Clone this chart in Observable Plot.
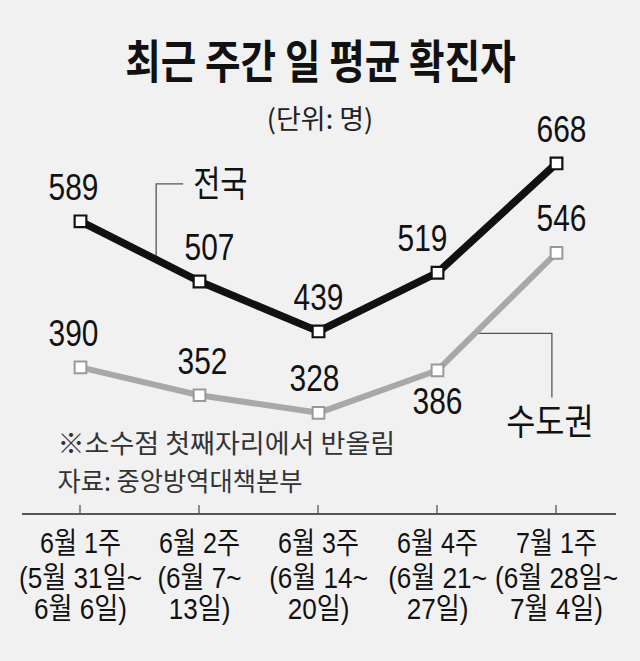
<!DOCTYPE html>
<html><head><meta charset="utf-8">
<script src="https://cdn.jsdelivr.net/npm/d3@7"></script>
<script src="https://cdn.jsdelivr.net/npm/@observablehq/plot@0.6"></script>
<style>
html,body{margin:0;padding:0;background:#f1f1f1;}
#wrap{position:relative;width:640px;height:661px;overflow:hidden;background:#f1f1f1;}
#title{position:absolute;left:0;top:33px;width:640px;text-align:center;font-family:"Noto Sans CJK KR";font-weight:700;font-size:46px;line-height:50px;color:#111;}
#title span{display:inline-block;transform:scaleX(0.84);white-space:nowrap;}
#sub{position:absolute;left:0;top:103px;width:640px;text-align:center;font-family:"Noto Sans CJK KR";font-size:27px;line-height:30px;color:#222;}
#chart{position:absolute;left:0;top:0;}
</style></head>
<body><div id="wrap"><div id="chart"></div><div id="title"><span>최근 주간 일 평균 확진자</span></div><div id="sub">(단위: 명)</div></div>
<script>
// ---- data ----
const weeks = ["6월 1주", "6월 2주", "6월 3주", "6월 4주", "7월 1주"];
const weekRanges = ["(5월 31일~", "(6월 7~", "(6월 14~", "(6월 21~", "(6월 28일~"];
const weekEnds = ["6월 6일)", "13일)", "20일)", "27일)", "7월 4일)"];
const national = [589, 507, 439, 519, 668];
const capital = [390, 352, 328, 386, 546];
const seriesNames = ["전국", "수도권"];
const notes = ["※소수점 첫째자리에서 반올림", "자료: 중앙방역대책본부"];

// ---- layout helpers (label nudges, not data) ----
const nationalDx = [-7, 10, 0, -15, 5];
const capitalDx = [-7, 3, -4, 0, 5];
const capitalBelow = [false, false, false, true, false];

const nat = weeks.map((w, i) => ({week: w, value: national[i], dx: nationalDx[i]}));
const cap = weeks.map((w, i) => ({week: w, value: capital[i], dx: capitalDx[i], below: capitalBelow[i]}));

const NUMFONT = '"Liberation Sans", Arial, sans-serif';
const KRFONT = '"Liberation Sans", "Noto Sans CJK KR", sans-serif';

function labelMarks(data) {
  return data.map(d => Plot.text([d], {
    x: "week", y: "value", text: r => String(r.value),
    dx: d.dx, dy: d.below ? 32 : -33,
    fontFamily: NUMFONT, fontSize: 36, fill: "#111", lineAnchor: "middle"
  }));
}

function decorations(index, scales, values, dimensions) {
  const x = typeof scales.x === "function" ? scales.x : scales.scales.x;
  const y = typeof scales.y === "function" ? scales.y : scales.scales.y;
  const {width, height, marginLeft, marginRight, marginBottom} = dimensions;
  const g = d3.create("svg:g");
  const base = height - marginBottom;
  // baseline and ticks
  g.append("line").attr("x1", marginLeft).attr("x2", width - marginRight)
    .attr("y1", base).attr("y2", base).attr("stroke", "#555").attr("stroke-width", 2);
  for (const w of weeks) {
    g.append("line").attr("x1", x(w)).attr("x2", x(w)).attr("y1", base).attr("y2", base - 9)
      .attr("stroke", "#555").attr("stroke-width", 1.3);
  }
  // leader for 전국 (on segment week0 -> week1)
  const t1 = 0.64;
  const ax = x(weeks[0]) + (x(weeks[1]) - x(weeks[0])) * t1;
  const ay = y(national[0]) + (y(national[1]) - y(national[0])) * t1;
  const topY = y(national[0]) - 37;
  g.append("path").attr("d", `M${ax},${ay}V${topY}H${ax + 27}`)
    .attr("fill", "none").attr("stroke", "#555").attr("stroke-width", 1.3);
  g.append("text").attr("x", ax + 37).attr("y", topY).attr("dy", "0.36em")
    .attr("text-anchor", "start").attr("data-squeeze", 0.82)
    .attr("font-family", '"Noto Sans CJK KR"').attr("font-size", 36).attr("fill", "#111")
    .text(seriesNames[0]);
  // leader for 수도권 (on segment week3 -> week4)
  const t2 = 0.31;
  const bx = x(weeks[3]) + (x(weeks[4]) - x(weeks[3])) * t2;
  const by = y(capital[3]) + (y(capital[4]) - y(capital[3])) * t2;
  g.append("path").attr("d", `M${bx},${by}H${bx + 78}V${by + 64}`)
    .attr("fill", "none").attr("stroke", "#555").attr("stroke-width", 1.3);
  g.append("text").attr("x", bx + 76).attr("y", by + 89).attr("dy", "0.36em")
    .attr("text-anchor", "middle").attr("data-squeeze", 0.88)
    .attr("font-family", '"Noto Sans CJK KR"').attr("font-size", 36).attr("fill", "#111")
    .text(seriesNames[1]);
  return g.node();
}

const plot = Plot.plot({
  width: 640, height: 661,
  marginTop: 0, marginLeft: 22, marginRight: 24, marginBottom: 147,
  style: {background: "transparent", overflow: "visible"},
  x: {type: "point", domain: weeks, range: [80, 556], padding: 0, axis: null},
  y: {domain: [0, 700], range: [653, 139.4], axis: null},
  marks: [
    decorations,
    Plot.line(cap, {x: "week", y: "value", stroke: "#a8a8a8", strokeWidth: 6, strokeLinejoin: "miter"}),
    Plot.line(nat, {x: "week", y: "value", stroke: "#111", strokeWidth: 7.5, strokeLinejoin: "miter"}),
    Plot.dot(cap, {x: "week", y: "value", symbol: "square", r: 6.6, fill: "white", stroke: "#999", strokeWidth: 2}),
    Plot.dot(nat, {x: "week", y: "value", symbol: "square", r: 6.6, fill: "white", stroke: "#111", strokeWidth: 2.2}),
    ...labelMarks(nat),
    ...labelMarks(cap),
    Plot.text(weeks, {x: d => d, text: d => d, frameAnchor: "bottom", dy: 29, lineAnchor: "middle",
      fontFamily: KRFONT, fontSize: 30, fill: "#111"}),
    Plot.text(weeks.map((w, i) => ({w, t: weekRanges[i]})), {x: "w", text: "t", frameAnchor: "bottom", dy: 64, lineAnchor: "middle",
      fontFamily: KRFONT, fontSize: 29, fill: "#111"}),
    Plot.text(weeks.map((w, i) => ({w, t: weekEnds[i]})), {x: "w", text: "t", frameAnchor: "bottom", dy: 95, lineAnchor: "middle",
      fontFamily: KRFONT, fontSize: 29, fill: "#111"}),
    Plot.text([notes[0]], {text: d => d, frameAnchor: "bottom-left", dx: 35, dy: -70, textAnchor: "start", lineAnchor: "middle",
      fontFamily: '"Noto Sans CJK KR"', fontSize: 26, fill: "#333"}),
    Plot.text([notes[1]], {text: d => d, frameAnchor: "bottom-left", dx: 35, dy: -32, textAnchor: "start", lineAnchor: "middle",
      fontFamily: '"Noto Sans CJK KR"', fontSize: 25.9, fill: "#333"})
  ]
});

document.getElementById("chart").appendChild(plot);

// condense text to match the narrow typeface of the original
const factors = {"36": 0.83, "30": 0.834, "29": 0.9, "26": 1.04, "25.9": 0.975};
plot.querySelectorAll("text").forEach(t => {
  let f = t.getAttribute("data-squeeze");
  if (f == null) f = factors[String(parseFloat(getComputedStyle(t).fontSize))];
  f = +f;
  if (!f) return;
  const L = t.getComputedTextLength();
  t.setAttribute("textLength", (L * f).toFixed(2));
  t.setAttribute("lengthAdjust", "spacingAndGlyphs");
});
</script>
</body></html>
